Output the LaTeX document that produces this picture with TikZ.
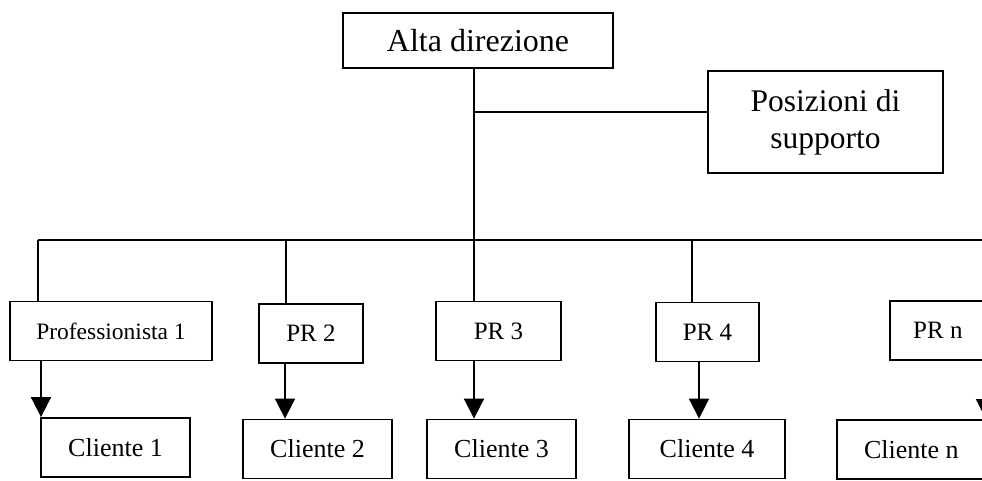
\documentclass[tikz,border=0pt]{standalone}
\usepackage{fontspec}
\setmainfont{Liberation Serif}
\usetikzlibrary{arrows.meta}

\begin{document}
\begin{tikzpicture}[x=1pt,y=-1pt,line width=1.8pt,
  box/.style={draw,line width=1.8pt,inner sep=0pt,align=center},
  prbox/.style={box,minimum height=59pt,font=\fontsize{25}{30}\selectfont},
  clbox/.style={box,minimum width=149pt,minimum height=59pt,font=\fontsize{26}{31}\selectfont},
  arr/.style={-{Triangle[length=20pt,width=20pt]}}]
\useasboundingbox (0,0) rectangle (982,480);
\clip (0,0) rectangle (982,480);
% top of the chart
\node[box,minimum width=270pt,minimum height=55pt,font=\fontsize{32}{38}\selectfont] (alta) at (478,40.5) {Alta direzione};
\node[box,minimum width=235pt,minimum height=102pt,font=\fontsize{31.5}{37}\selectfont] (supp) at (825.5,122) {Posizioni di\\supporto};
\coordinate (bus) at (38,240);
\coordinate (busend) at (1000,240);
\coordinate (split) at (474,112);
% professionals
\node[prbox,minimum width=202pt,font=\fontsize{23.5}{28}\selectfont] (prof) at (111,331) {Professionista 1};
\node[prbox,minimum width=104pt] (pr2) at (311,333.5) {PR 2};
\node[prbox,minimum width=125pt] (pr3) at (498.5,331) {PR 3};
\node[prbox,minimum width=103pt] (pr4) at (707.5,332) {PR 4};
\node[prbox,minimum width=126pt,anchor=west] (prn) at (889,330.5) {PR n\hspace*{30pt}};
% clients
\node[clbox] (cl1) at (115.5,447.5) {Cliente 1};
\node[clbox] (cl2) at (317.5,449) {Cliente 2};
\node[clbox] (cl3) at (501.5,449) {Cliente 3};
\node[clbox,minimum width=156pt] (cl4) at (707,449) {Cliente 4};
\node[clbox,minimum width=179pt,anchor=west] (cln) at (836,449.5) {Cliente n\hspace*{30pt}};
% lines
\draw (split |- alta.south) -- (split |- pr3.north);
\draw (split) -- (split -| supp.west);
\draw (bus) -- (busend);
\foreach \p/\c/\xa/\xb in {prof/cl1/38/41,pr2/cl2/286/285,pr3/cl3/474/474,pr4/cl4/692/699}{
  \draw (\xa,0 |- bus) -- (\xa,0 |- \p.north);
  \draw[arr] (\xb,0 |- \p.south) -- (\xb,0 |- \c.north);
}
\draw[arr] (986,0 |- prn.south) -- (986,0 |- cln.north);
\end{tikzpicture}
\end{document}
